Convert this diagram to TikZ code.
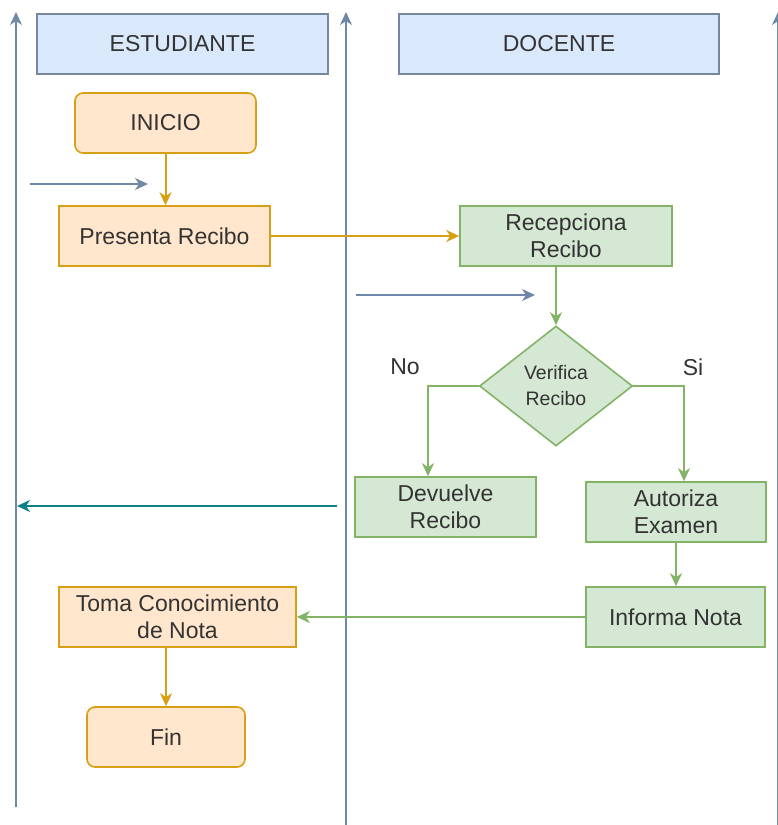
\documentclass[tikz,border=0pt]{standalone}
\usepackage{fontspec}
\setmainfont{Liberation Sans}
\usetikzlibrary{arrows.meta,shapes.geometric}
\definecolor{laneblue}{RGB}{112,136,168}
\definecolor{headfill}{RGB}{218,232,252}
\definecolor{headdraw}{RGB}{118,136,160}
\definecolor{orfill}{RGB}{255,230,204}
\definecolor{ordraw}{RGB}{215,160,20}
\definecolor{grfill}{RGB}{213,232,212}
\definecolor{grdraw}{RGB}{130,179,102}
\definecolor{tealline}{RGB}{14,128,136}
\definecolor{txt}{RGB}{51,51,51}
\tikzset{
  box/.style={
    draw,
    line width=1.6pt,
    text=txt,
    align=center,
    inner sep=2pt,
    font=\fontsize{23}{27}\selectfont
  },
  sized/.style 2 args={minimum width=#1pt, minimum height=#2pt},
  lanehead/.style={box, fill=headfill, draw=headdraw},
  startbox/.style={box, fill=orfill, draw=ordraw, rounded corners=8pt},
  stepbox/.style={box, fill=orfill, draw=ordraw},
  taskbox/.style={box, fill=grfill, draw=grdraw},
  decision/.style={
    box,
    diamond,
    fill=grfill,
    draw=grdraw,
    inner sep=0pt,
    font=\fontsize{19.5}{26}\selectfont
  },
  flow/.style={
    line width=2pt,
    -{Stealth[length=13pt,width=12pt,inset=4pt]}
  },
  flow-or/.style={flow, draw=ordraw},
  flow-gr/.style={flow, draw=grdraw},
  flow-bl/.style={flow, draw=laneblue},
  flow-teal/.style={flow, draw=tealline},
  lane/.style={flow, draw=laneblue, line width=1.8pt},
  tag/.style={text=txt, font=\fontsize{23}{27}\selectfont}
}

\begin{document}
\begin{tikzpicture}[x=1pt, y=-1pt]
  \useasboundingbox (0,0) rectangle (777,825);
  % lanes
  \coordinate (lane1b) at (16,807);
  \coordinate (lane1t) at (16,12);
  \coordinate (lane2b) at (346,826);
  \coordinate (lane2t) at (346,12);
  \coordinate (lane3b) at (778,826);
  \coordinate (lane3t) at (778,12);
  \foreach \l in {1,2,3} {
    \draw[lane] (lane\l b) -- (lane\l t);
  }
  \node[lanehead, sized={291}{60}] (est) at (182.5,44) {ESTUDIANTE};
  \node[lanehead, sized={320}{60}] (doc) at (559,44) {DOCENTE};

  % estudiante
  \node[startbox, sized={181}{60}] (inicio) at (165.5,123) {INICIO};
  \node[stepbox, sized={211}{60}] (presenta) at (164.5,236) {Presenta Recibo};
  \node[stepbox, sized={237}{60}] (toma) at (177.5,617) {Toma Conocimiento\\de Nota};
  \node[startbox, sized={158}{60}] (fin) at (166,737) {Fin};

  % docente
  \node[taskbox, sized={212}{60}] (recep) at (566,236) {Recepciona\\Recibo};
  \node[decision, sized={153}{120}] (verif) at (556,386) {Verifica\\Recibo};
  \node[taskbox, sized={181}{60}] (devuelve) at (445.5,507) {Devuelve\\Recibo};
  \node[taskbox, sized={180}{60}] (autoriza) at (676,512) {Autoriza\\Examen};
  \node[taskbox, sized={179}{60}] (informa) at (675.5,617) {Informa Nota};
  \node[tag] (no) at (405,367) {No};
  \node[tag] (si) at (693,367) {Si};

  \coordinate (noturn) at (428,386);
  \coordinate (siturn) at (684,386);
  \coordinate (in1a) at (30,184);
  \coordinate (in1b) at (148,184);
  \coordinate (in2a) at (356,295);
  \coordinate (in2b) at (535,295);
  \coordinate (backa) at (337,506);
  \coordinate (backb) at (17,506);

  \draw[flow-or] (inicio) -- (inicio |- presenta.north);
  \draw[flow-or] (presenta) -- (recep);
  \draw[flow-gr] (verif.north |- recep.south) -- (verif);
  \draw[flow-gr] (verif.west) -- (noturn) -- (noturn |- devuelve.north);
  \draw[flow-gr] (verif.east) -- (siturn) -- (siturn |- autoriza.north);
  \draw[flow-gr] (autoriza) -- (autoriza |- informa.north);
  \draw[flow-gr] (informa) -- (toma);
  \draw[flow-or] (fin.north |- toma.south) -- (fin);
  \draw[flow-bl] (in1a) -- (in1b);
  \draw[flow-bl] (in2a) -- (in2b);
  \draw[flow-teal] (backa) -- (backb);
\end{tikzpicture}
\end{document}
